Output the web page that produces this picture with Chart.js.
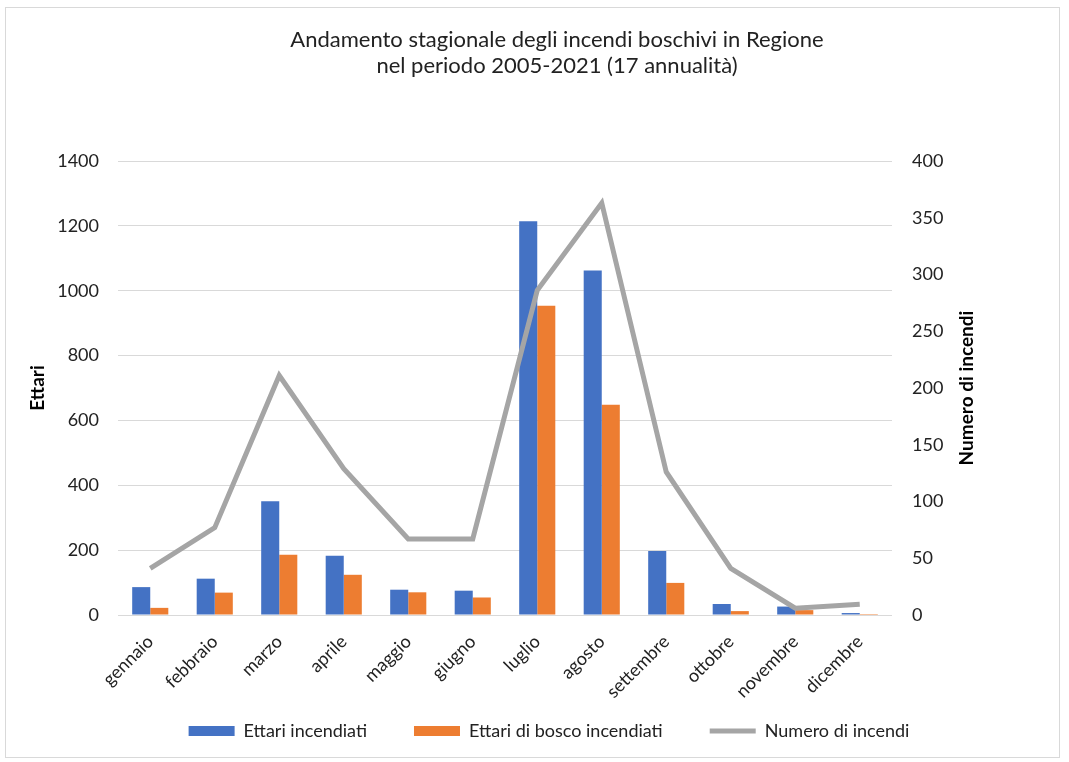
<!DOCTYPE html>
<html>
<head>
<meta charset="utf-8">
<script src="https://cdn.jsdelivr.net/npm/chart.js@4"></script>
<style>
  body { margin: 0; background: #fff; }
  #wrap { position: relative; width: 1069px; height: 762px; }
  #frame { position: absolute; left: 5px; top: 7px; width: 1053px; height: 749px; border: 1px solid #d9d9d9; pointer-events: none; }
</style>
</head>
<body>
<div id="wrap">
  <canvas id="seasonChart" width="1069" height="762"></canvas>
  <div id="frame"></div>
</div>
<script>
// mesi
const months = ['gennaio', 'febbraio', 'marzo', 'aprile', 'maggio', 'giugno', 'luglio', 'agosto', 'settembre', 'ottobre', 'novembre', 'dicembre'];
// ettari (asse sinistro)
const ettariIncendiati = [86, 112, 351, 183, 78, 75, 1214, 1062, 197, 34, 26, 6];
const ettariBosco = [22, 69, 186, 124, 70, 54, 954, 648, 99, 12, 15, 3];
// numero incendi (asse destro)
const numeroIncendi = [41, 77, 211, 129, 67, 67, 286, 363, 126, 41, 6, 9.5];
const titleLines = ['Andamento stagionale degli incendi boschivi in Regione', 'nel periodo 2005-2021 (17 annualità)'];
const rightAxisTitle = 'Numero di incendi';

const FONT = 'Lato, "Open Sans", sans-serif';

// titolo e titolo asse destro disegnati a mano (come in Excel)
const titlePlugin = {
    id: 'manualTitle',
    afterLayout(chart) {
        // la legenda in Excel non è centrata sul canvas: spostala a destra
        const lg = chart.legend;
        lg.left += 48;
        lg.right += 48;
    },
    afterDraw(chart) {
        const c = chart.ctx;
        const area = chart.chartArea;
        c.save();
        c.fillStyle = '#222';
        c.font = '22px ' + FONT;
        c.textAlign = 'center';
        c.textBaseline = 'middle';
        c.fillText(titleLines[0], 557, 40);
        c.fillText(titleLines[1], 557, 66);
        // titolo asse secondario, letto dal basso verso l'alto
        c.fillStyle = '#000';
        c.font = 'bold 19px ' + FONT;
        c.translate(967, (area.top + area.bottom) / 2);
        c.rotate(-Math.PI / 2);
        c.fillText(rightAxisTitle, 0, 0);
        c.restore();
    }
};

document.addEventListener('DOMContentLoaded', function() {
    const ctx = document.getElementById('seasonChart').getContext('2d');

    new Chart(ctx, {
        type: 'bar',
        data: {
            labels: months,
            datasets: [{
                label: 'Ettari incendiati',
                data: ettariIncendiati,
                backgroundColor: '#4472C4',
                borderWidth: 0,
                yAxisID: 'y',
                pointStyle: 'rect',
                order: 2
            }, {
                label: 'Ettari di bosco incendiati',
                data: ettariBosco,
                backgroundColor: '#ED7D31',
                borderWidth: 0,
                yAxisID: 'y',
                pointStyle: 'rect',
                order: 3
            }, {
                type: 'line',
                label: 'Numero di incendi',
                data: numeroIncendi,
                borderColor: '#A5A5A5',
                backgroundColor: '#A5A5A5',
                borderWidth: 5,
                pointRadius: 0,
                pointStyle: 'line',
                tension: 0,
                yAxisID: 'y1',
                order: 1
            }]
        },
        plugins: [titlePlugin],
        options: {
            responsive: false,
            animation: false,
            datasets: {
                bar: { categoryPercentage: 0.56, barPercentage: 1 }
            },
            layout: { padding: { left: 22, right: 89, top: 161, bottom: 12 } },
            plugins: {
                title: { display: false },
                legend: {
                    position: 'bottom',
                    labels: {
                        usePointStyle: true,
                        pointStyleWidth: 46,
                        boxHeight: 10,
                        padding: 47,
                        color: '#222',
                        font: { family: FONT, size: 18 },
                        sort: function(a, b) { return a.datasetIndex - b.datasetIndex; }
                    }
                },
                tooltip: { enabled: false }
            },
            scales: {
                x: {
                    grid: { display: false },
                    border: { display: false },
                    ticks: {
                        color: '#222',
                        font: { family: FONT, size: 18 },
                        minRotation: 45,
                        maxRotation: 45,
                        padding: 8
                    },
                    afterFit: function(scale) {
                        scale.height = 60;
                        // le etichette ruotate escono dall'area dell'asse: niente clip
                        scale._computeLabelArea = function() { return undefined; };
                    }
                },
                y: {
                    position: 'left',
                    min: 0,
                    max: 1400,
                    ticks: {
                        stepSize: 200,
                        color: '#222',
                        font: { family: FONT, size: 18 },
                        padding: 19,
                        callback: function(v) { return String(v); }
                    },
                    grid: { color: '#d9d9d9', lineWidth: 1, drawTicks: false },
                    border: { display: false },
                    title: {
                        display: true,
                        text: 'Ettari',
                        color: '#000',
                        font: { family: FONT, size: 19, weight: 'bold' }
                    },
                    afterFit: function(scale) { scale.width = 96; }
                },
                y1: {
                    position: 'right',
                    min: 0,
                    max: 400,
                    ticks: {
                        stepSize: 50,
                        color: '#222',
                        font: { family: FONT, size: 18 },
                        padding: 20
                    },
                    grid: { drawOnChartArea: false, drawTicks: false },
                    border: { display: false },
                    title: { display: false },
                    afterFit: function(scale) { scale.width = 88; }
                }
            }
        }
    });
});
</script>
</body>
</html>
